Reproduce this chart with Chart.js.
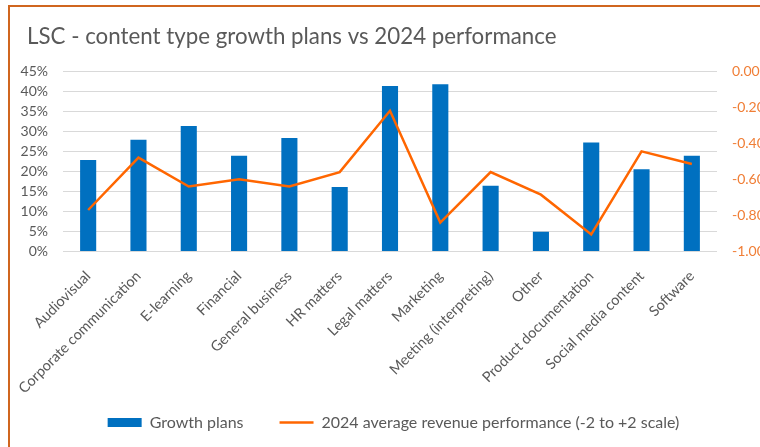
<!DOCTYPE html>
<html>
<head>
<meta charset="utf-8">
<title>LSC content type growth plans</title>
<script src="https://cdn.jsdelivr.net/npm/chart.js@4.4.1/dist/chart.umd.min.js"></script>
<style>
  html, body { margin: 0; padding: 0; background: #fff; overflow: hidden; }
  #wrap  { position: relative; width: 760px; height: 447px; }
  #frame { position: absolute; left: 8px; top: 5px; width: 900px; height: 600px;
           border: 2px solid #d0661f; pointer-events: none; }
  canvas { position: absolute; left: 0; top: 0; }
</style>
</head>
<body>
<div id="wrap">
  <canvas id="chart" width="760" height="447"></canvas>
  <div id="frame"></div>
</div>
<script>
// ─── data ─────────────────────────────────────────────
const categories = [
  'Audiovisual', 'Corporate communication', 'E-learning', 'Financial',
  'General business', 'HR matters', 'Legal matters', 'Marketing',
  'Meeting (interpreting)', 'Other', 'Product documentation',
  'Social media content', 'Software'
];
// % of LSCs planning growth per content type
const growthPlans = [22.8, 27.9, 31.3, 23.9, 28.3, 16.1, 41.3, 41.7, 16.4, 4.9, 27.2, 20.5, 23.9];
// average 2024 revenue performance (-2 to +2 scale)
const revenuePerf = [-0.77, -0.48, -0.64, -0.60, -0.64, -0.56, -0.22, -0.84, -0.56, -0.685, -0.905, -0.445, -0.515];

const leftTickMin = 0,  leftTickMax = 45, leftTickStep = 5;
const rightTickMin = -1, rightTickMax = 0, rightTickStep = 0.2;

// ─── defaults ─────────────────────────────────────────
Chart.defaults.font.family = "Lato, 'Open Sans', sans-serif";
Chart.defaults.color = '#595959';

const BLUE   = '#0070c0';
const ORANGE = '#ff6600';
const ORANGE_TEXT = '#f07e36';
const GRID   = '#d9d9d9';

// title and legend sit inside the frame, indented from the canvas edge;
// the long rotated category names may run down past the x-axis box
const adjustBlocks = {
  id: 'adjustBlocks',
  afterLayout(chart) {
    chart.titleBlock.left = 27;
    chart.legend.left = 27;
    chart.scales.x.bottom = chart.height;
  },
};

new Chart(document.getElementById('chart').getContext('2d'), {
  type: 'bar',
  data: {
    labels: categories,
    datasets: [
      {
        label: 'Growth plans',
        data: growthPlans,
        backgroundColor: BLUE,
        borderWidth: 0,
        yAxisID: 'y',
        order: 1,
        pointStyle: 'rect',
        categoryPercentage: 1,
        barPercentage: 0.32,
      },
      {
        label: '2024 average revenue performance (-2 to +2 scale)',
        type: 'line',
        data: revenuePerf,
        borderColor: ORANGE,
        backgroundColor: ORANGE,
        borderWidth: 2.5,
        tension: 0,
        pointRadius: 0,
        yAxisID: 'y1',
        order: 0,
        pointStyle: 'line',
      },
    ],
  },
  plugins: [adjustBlocks],
  options: {
    responsive: false,
    animation: false,
    layout: { padding: { left: 0, right: 0, top: 0, bottom: 6.5 } },
    plugins: {
      title: {
        display: true,
        text: 'LSC - content type growth plans vs 2024 performance',
        align: 'start',
        color: '#595959',
        font: { size: 22.3, weight: 'normal', lineHeight: 1.2 },
        padding: { top: 23, bottom: 21.3 },
      },
      legend: {
        position: 'bottom',
        labels: {
          usePointStyle: true,
          pointStyleWidth: 34,
          boxHeight: 9,
          padding: 36,
          color: '#595959',
          font: { size: 16 },
          sort: (a, b) => a.datasetIndex - b.datasetIndex,
        },
      },
      tooltip: { enabled: false },
    },
    scales: {
      x: {
        grid: { display: false },
        border: { display: false },
        ticks: { autoSkip: false, minRotation: 45, maxRotation: 45, padding: 8, font: { size: 14.5 } },
        afterFit: s => { s.height = 127; },
      },
      y: {
        position: 'left',
        min: leftTickMin, max: leftTickMax,
        grid: { color: GRID, drawTicks: false },
        border: { display: false },
        ticks: { stepSize: leftTickStep, padding: 15, font: { size: 14 }, callback: v => v + '%' },
        afterFit: s => { s.width = 63; },
      },
      y1: {
        position: 'right',
        min: rightTickMin, max: rightTickMax,
        grid: { display: false, drawTicks: false },
        border: { display: false },
        ticks: { stepSize: rightTickStep, padding: 15, color: ORANGE_TEXT, font: { size: 14 },
                 callback: v => (Math.abs(v) < 1e-9 ? 0 : v).toFixed(2) },
        afterFit: s => { s.width = 43; },
      },
    },
  },
});
</script>
</body>
</html>
